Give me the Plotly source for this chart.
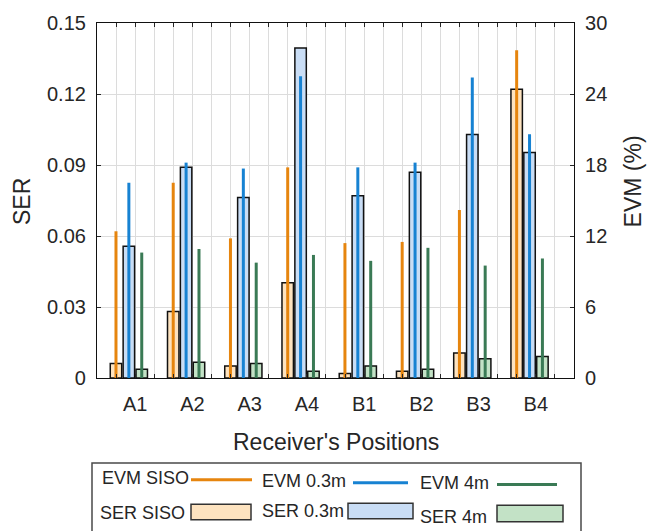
import plotly.graph_objects as go

# Receiver positions and measured results
positions = ["A1", "A2", "A3", "A4", "B1", "B2", "B3", "B4"]

ser_siso = [0.0061, 0.0281, 0.0051, 0.0402, 0.0019, 0.0029, 0.0106, 0.1220]
ser_03m = [0.0557, 0.0891, 0.0763, 0.1394, 0.0770, 0.0869, 0.1029, 0.0953]
ser_4m = [0.0037, 0.0067, 0.0061, 0.0029, 0.0051, 0.0037, 0.0081, 0.0091]

evm_siso = [12.4, 16.5, 11.8, 17.8, 11.4, 11.5, 14.2, 27.7]
evm_03m = [16.5, 18.2, 17.7, 25.5, 17.8, 18.2, 25.4, 20.6]
evm_4m = [10.6, 10.9, 9.75, 10.4, 9.9, 11.0, 9.5, 10.1]

# styling
C_LINE = {"siso": "#E6850E", "03": "#1782D2", "4": "#3A7A55"}
C_FILL = {"siso": "#FDE3C0", "03": "#C9DDF5", "4": "#C3E2C6"}
TXT = "#262626"
FONT = "Liberation Sans, Arial, sans-serif"
GRID = "#dcdcdc"

W, H = 657, 531
L, R, T, B = 97, 574, 15, 378  # plot area in pixels


def px(x):
    return (x - L) / (R - L)


def py(y):
    return (B - y) / (B - T)


centers = [i + 1 - 0.11 for i in range(len(positions))]
offsets = {"siso": -0.225, "03": 0.0, "4": 0.225}
bar_w = 0.2

fig = go.Figure()

for key, vals in (("siso", ser_siso), ("03", ser_03m), ("4", ser_4m)):
    fig.add_trace(go.Bar(
        x=[c + offsets[key] for c in centers], y=vals, width=bar_w,
        marker=dict(color=C_FILL[key], line=dict(color="#111111", width=1.5)),
        yaxis="y", showlegend=False, hoverinfo="skip",
    ))

for key, vals in (("siso", evm_siso), ("03", evm_03m), ("4", evm_4m)):
    xs, ys = [], []
    for c, v in zip(centers, vals):
        x = c + offsets[key]
        xs += [x, x, None]
        ys += [0, v, None]
    fig.add_trace(go.Scatter(
        x=xs, y=ys, mode="lines", yaxis="y2",
        line=dict(color=C_LINE[key], width=3),
        showlegend=False, hoverinfo="skip",
    ))

fig.update_layout(
    width=W, height=H,
    margin=dict(l=L, r=W - R, t=T, b=H - B, pad=0),
    paper_bgcolor="white", plot_bgcolor="white",
    font=dict(family=FONT, color=TXT),
    barmode="overlay",
    xaxis=dict(
        range=[1 / 3, 8 + 2 / 3],
        tickmode="array", tickvals=list(range(1, 9)), ticktext=positions,
        tickfont=dict(size=20, color=TXT),
        ticks="inside", ticklen=4, tickcolor=TXT,
        showgrid=True, gridcolor=GRID, gridwidth=1,
        minor=dict(tickmode="linear", tick0=0, dtick=1 / 3, showgrid=True,
                   gridcolor=GRID, gridwidth=1, ticks="inside", ticklen=4,
                   tickcolor=TXT),
        showline=True, linecolor="#111111", linewidth=1.2, mirror="ticks",
        zeroline=False, ticklabelstandoff=8,
    ),
    yaxis=dict(
        range=[0, 0.15], tick0=0, dtick=0.03,
        tickfont=dict(size=20, color=TXT),
        ticks="inside", ticklen=4, tickcolor=TXT,
        showgrid=True, gridcolor=GRID, gridwidth=1,
        showline=True, linecolor="#111111", linewidth=1.2,
        zeroline=False, ticklabelstandoff=6,
    ),
    yaxis2=dict(
        range=[0, 30], tick0=0, dtick=6, overlaying="y", side="right",
        tickfont=dict(size=20, color=TXT),
        ticks="inside", ticklen=4, tickcolor=TXT,
        showgrid=False, showline=True, linecolor="#111111", linewidth=1.2,
        zeroline=False, ticklabelstandoff=6,
    ),
)

annotations = [
    dict(text="SER", x=px(22), y=py(198), textangle=-90, font=dict(size=23)),
    dict(text="EVM (%)", x=px(633), y=py(177), textangle=-90, font=dict(size=23)),
    dict(text="Receiver's Positions", x=px(336), y=py(443), font=dict(size=23)),
]

shapes = [
    dict(type="rect", x0=px(92), x1=px(581), y0=py(465), y1=py(545),
         line=dict(color="#4a4a4a", width=1.5), fillcolor="white"),
]

# legend rows: line samples for EVM, boxes for SER
legend_lines = [
    ("EVM SISO", 100, 191, 252, 482, "siso"),
    ("EVM 0.3m", 260, 353, 408, 485, "03"),
    ("EVM 4m", 418, 497, 557, 487, "4"),
]
for label, tx, x0, x1, yy, key in legend_lines:
    annotations.append(dict(text=label, x=px(tx), y=py(yy - 2), xanchor="left",
                            font=dict(size=18)))
    shapes.append(dict(type="line", x0=px(x0), x1=px(x1), y0=py(yy), y1=py(yy),
                       line=dict(color=C_LINE[key], width=3)))

legend_boxes = [
    ("SER SISO", 98, 191, 251, 507, 523, 516, "siso"),
    ("SER 0.3m", 260, 348, 413, 506, 522, 514, "03"),
    ("SER 4m", 418, 497, 563, 508, 525, 520, "4"),
]
for label, tx, x0, x1, y0, y1, ty, key in legend_boxes:
    annotations.append(dict(text=label, x=px(tx), y=py(ty), xanchor="left",
                            font=dict(size=18)))
    shapes.append(dict(type="rect", x0=px(x0), x1=px(x1), y0=py(y0), y1=py(y1),
                       fillcolor=C_FILL[key], line=dict(color="#333333", width=1.5)))

for a in annotations:
    a.update(xref="paper", yref="paper", showarrow=False)
    a.setdefault("xanchor", "center")
    a["yanchor"] = "middle"

for s in shapes:
    s.update(xref="paper", yref="paper")

fig.update_layout(annotations=annotations, shapes=shapes)

fig.write_html("out.html")
